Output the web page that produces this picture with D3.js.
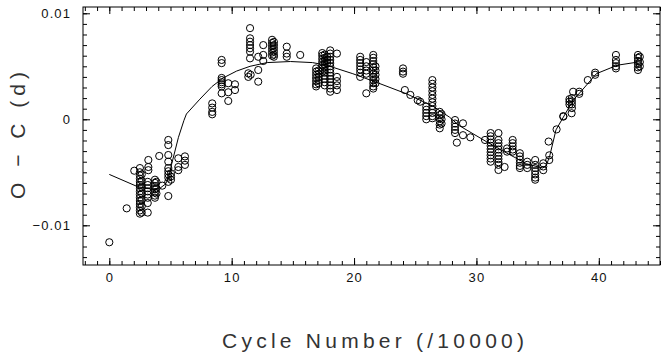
<!DOCTYPE html>
<html>
<head>
<meta charset="utf-8">
<script src="https://cdn.jsdelivr.net/npm/d3@7"></script>
<style>
  body { margin: 0; background: #fff; }
  .axis path, .axis line { stroke: #000; stroke-width: 1; }
  .axis text { font-family: "Liberation Sans", Arial, sans-serif; font-size: 13px; letter-spacing: 1.1px; fill: #111; }
  .title { font-family: "Liberation Sans", Arial, sans-serif; font-size: 21px; fill: #333; }
</style>
</head>
<body>
<div id="chart"></div>
<script>
// observed O-C, grouped by cycle column: [cycle (/10000), [O-C values (d)]]
const obsColumns = [
  [0.0, [-0.0116]],
  [1.42, [-0.0084]],
  [2.04, [-0.00485]],
  [2.5, [-0.0046, -0.0050, -0.0053, -0.0056, -0.0059, -0.0062, -0.0065, -0.0068, -0.0071, -0.0074, -0.0077, -0.0080, -0.0083, -0.0086, -0.0089]],
  [2.65, [-0.0052, -0.0058, -0.0064, -0.0070, -0.0076, -0.0082, -0.0088]],
  [3.19, [-0.00384, -0.0045, -0.0048]],
  [3.14, [-0.0059, -0.0062, -0.0065, -0.0068, -0.0071, -0.0074, -0.0079, -0.0088]],
  [3.73, [-0.0057, -0.0060, -0.0063, -0.0066, -0.0069, -0.0072, -0.0074]],
  [3.85, [-0.0059, -0.0065, -0.0070]],
  [4.08, [-0.00346]],
  [4.33, [-0.00626]],
  [4.82, [-0.00195, -0.00243, -0.00337, -0.0040, -0.0046, -0.0049, -0.0052, -0.0055, -0.0059, -0.00724]],
  [5.04, [-0.0051, -0.0054, -0.0057]],
  [5.64, [-0.00368, -0.0045, -0.0048]],
  [6.18, [-0.0035, -0.0039, -0.0043]],
  [8.41, [0.0015, 0.0011, 0.0007, 0.00047]],
  [9.18, [0.0056, 0.0053, 0.0039, 0.0037, 0.0035, 0.0033, 0.0031, 0.00245]],
  [9.72, [0.0034, 0.00255, 0.00173]],
  [10.27, [0.0033, 0.00276]],
  [11.5, [0.0086, 0.00764, 0.00732, 0.0070, 0.0067, 0.00638, 0.00575]],
  [11.36, [0.00434, 0.0040]],
  [11.55, [0.0042]],
  [12.17, [0.0059, 0.00465, 0.00355]],
  [12.58, [0.0070, 0.00607, 0.0055]],
  [13.3, [0.0075, 0.0072, 0.0069, 0.0066, 0.0063, 0.0060]],
  [13.45, [0.0073, 0.0070, 0.0067, 0.0064, 0.0061, 0.0059]],
  [14.5, [0.00685, 0.0062, 0.0059]],
  [15.6, [0.00607]],
  [16.9, [0.0048, 0.0045, 0.0042, 0.0039, 0.0036, 0.0033, 0.0031]],
  [17.1, [0.0046, 0.0043, 0.0040, 0.0037, 0.0034]],
  [17.4, [0.00625, 0.0060, 0.0057, 0.0054, 0.0051, 0.0048, 0.0045]],
  [17.6, [0.0061, 0.0058, 0.0055, 0.0052, 0.0049, 0.0046, 0.0044, 0.0041, 0.0038, 0.0035, 0.0032]],
  [17.8, [0.0059, 0.0056, 0.0053]],
  [18.05, [0.0065, 0.0062, 0.0059, 0.0056, 0.0053, 0.0050, 0.0047, 0.0044, 0.0041, 0.0038, 0.0035, 0.0032, 0.0029, 0.0026]],
  [18.6, [0.0062, 0.0040, 0.0036, 0.0032, 0.00276]],
  [20.5, [0.0059, 0.0056, 0.0053, 0.0050, 0.0047, 0.0044, 0.0040]],
  [21.0, [0.0054, 0.0050, 0.0046, 0.0043, 0.00245]],
  [21.57, [0.00607, 0.0058, 0.0055, 0.0052, 0.0049, 0.0046, 0.0043, 0.0040, 0.0037, 0.0034, 0.0031, 0.0029]],
  [21.75, [0.0050, 0.0046, 0.0042, 0.0038, 0.0034]],
  [24.0, [0.0048, 0.0045, 0.0043]],
  [24.15, [0.00276]],
  [24.6, [0.0023]],
  [25.2, [0.0018]],
  [25.4, [0.00166]],
  [25.9, [0.0012, 0.0009, 0.0006, 0.0003, 0.0000]],
  [26.4, [0.0037, 0.00335, 0.0030, 0.00265, 0.0023, 0.00195, 0.0016, 0.00125, 0.0009, 0.0006, 0.0003, 0.0001]],
  [27.0, [0.0007, 0.0004, 0.0001, -0.0002, -0.0005, -0.00085]],
  [27.15, [0.0005, 0.0000, -0.0004]],
  [28.25, [-0.00007, -0.0004, -0.0007, -0.0010, -0.0013]],
  [28.4, [-0.0022]],
  [28.9, [-0.00038, -0.0015]],
  [29.5, [-0.0017]],
  [30.7, [-0.00195]],
  [31.16, [-0.0013, -0.0016, -0.0019, -0.0022, -0.0025, -0.0028, -0.0031, -0.0034, -0.0037, -0.0040]],
  [31.8, [-0.0013, -0.00195, -0.00225, -0.00255, -0.00285, -0.00315, -0.00345, -0.00375, -0.00405, -0.0043, -0.00478]],
  [32.3, [-0.0045]],
  [32.5, [-0.00275, -0.00305]],
  [32.96, [-0.00195, -0.00225, -0.00255, -0.00285, -0.00305]],
  [33.55, [-0.0032, -0.0035, -0.0038, -0.0041, -0.0044, -0.0046]],
  [34.15, [-0.0040, -0.0043, -0.0046]],
  [34.8, [-0.00384, -0.0043, -0.0046, -0.0049, -0.0052, -0.0055, -0.0057]],
  [35.46, [-0.00415, -0.00445, -0.0048]],
  [35.9, [-0.0021]],
  [35.95, [-0.0034, -0.00384]],
  [36.55, [-0.00095]],
  [37.1, [0.00025, 0.0003]],
  [37.6, [0.0014, 0.00166, 0.0019]],
  [37.78, [0.00057]],
  [37.8, [0.0020, 0.0017, 0.0014, 0.00106]],
  [37.9, [0.0026]],
  [38.4, [0.0026, 0.0024]],
  [39.1, [0.0037]],
  [39.7, [0.0044, 0.0042]],
  [41.4, [0.00607, 0.0056, 0.0053, 0.0050, 0.0048]],
  [43.2, [0.00607, 0.0058, 0.0055, 0.0052, 0.0049, 0.00465]],
  [43.35, [0.0059, 0.0054, 0.0050]]
];

// fitted curve
const fitCycle = [0, 2.3, 3.5, 4.2, 4.6, 4.85, 5.1, 5.65, 6.1, 6.3, 7.4, 8.4, 9.3, 10.4, 11.5, 12.9, 14.8, 16.6, 17.75,
  19.9, 21.8, 24.3, 26.5, 27.8, 28.6, 30.8, 32.5, 34.1, 35.4, 35.7, 36.0, 36.5, 37.2, 37.9, 38.6, 39.8, 41.5, 43.2];
const fitOC = [-0.0052, -0.00635, -0.0066, -0.00645, -0.0061, -0.0055, -0.0042, -0.0017, -0.0001, 0.0005, 0.0019, 0.0031, 0.0039, 0.00455, 0.0050, 0.00535, 0.00545, 0.00535, 0.0051,
  0.0043, 0.0035, 0.0024, 0.0012, 0.0002, -0.0006, -0.0021, -0.0032, -0.0042, -0.0046, -0.0044, -0.0034, -0.0010, 0.0004, 0.0018, 0.0027, 0.0043, 0.0051, 0.0054];

const xTicks = [0, 10, 20, 30, 40];
const yTicks = [-0.01, 0, 0.01];

const W = 665, H = 358;
const margin = { top: 7, right: 5, bottom: 93, left: 83 };
const w = W - margin.left - margin.right;
const h = H - margin.top - margin.bottom;

const svg = d3.select("#chart").append("svg")
  .attr("width", W)
  .attr("height", H);

const g = svg.append("g")
  .attr("transform", `translate(${margin.left},${margin.top})`);

const x = d3.scaleLinear().domain([-2.15, 45]).range([0, w]);
const y = d3.scaleLinear().domain([-0.013745, 0.010594]).range([h, 0]);

const xMinor = d3.range(-2, 46, 1);
const yMinor = d3.range(-13, 11, 1).map(d => d / 1000);

// --- minor ticks (all four sides, pointing inwards) ---
g.append("g").attr("class", "axis").attr("transform", `translate(0,${h})`)
  .call(d3.axisBottom(x).tickValues(xMinor).tickSize(-4).tickFormat(""));
g.append("g").attr("class", "axis")
  .call(d3.axisTop(x).tickValues(xMinor).tickSize(-4).tickFormat(""));
g.append("g").attr("class", "axis")
  .call(d3.axisLeft(y).tickValues(yMinor).tickSize(-4).tickFormat(""));
g.append("g").attr("class", "axis").attr("transform", `translate(${w},0)`)
  .call(d3.axisRight(y).tickValues(yMinor).tickSize(-4).tickFormat(""));

// --- major ticks ---
g.append("g").attr("class", "axis").attr("transform", `translate(0,${h})`)
  .call(d3.axisBottom(x).tickValues(xTicks).tickSize(-7).tickPadding(8).tickFormat(d3.format("d")));
g.append("g").attr("class", "axis")
  .call(d3.axisTop(x).tickValues(xTicks).tickSize(-7).tickFormat(""));
g.append("g").attr("class", "axis")
  .call(d3.axisLeft(y).tickValues(yTicks).tickSize(-7).tickPadding(12).tickFormat(d3.format(".2~f")));
g.append("g").attr("class", "axis").attr("transform", `translate(${w},0)`)
  .call(d3.axisRight(y).tickValues(yTicks).tickSize(-7).tickFormat(""));

g.selectAll(".axis .domain").remove();

// frame
g.append("rect")
  .attr("width", w).attr("height", h)
  .attr("fill", "none").attr("stroke", "#000").attr("stroke-width", 1);

// --- fitted line ---
const line = d3.line()
  .x((d, i) => x(fitCycle[i]))
  .y(d => y(d));

g.append("path")
  .datum(fitOC)
  .attr("fill", "none")
  .attr("stroke", "#000")
  .attr("stroke-width", 1)
  .attr("d", line);

// --- observations ---
const obs = obsColumns.flatMap(([c, vals]) => vals.map(v => ({ cycle: c, oc: v })));

g.append("g").selectAll("circle")
  .data(obs)
  .enter().append("circle")
  .attr("cx", d => x(d.cycle))
  .attr("cy", d => y(d.oc))
  .attr("r", 3.6)
  .attr("fill", "none")
  .attr("stroke", "#000")
  .attr("stroke-width", 1);

// --- axis titles ---
svg.append("text")
  .attr("class", "title")
  .attr("x", 222).attr("y", 348)
  .attr("textLength", 302).attr("lengthAdjust", "spacing")
  .text("Cycle Number (/10000)");

svg.append("text")
  .attr("class", "title")
  .attr("transform", "translate(25,199) rotate(-90)")
  .attr("x", 0).attr("y", 0)
  .attr("textLength", 127).attr("lengthAdjust", "spacing")
  .text("O − C (d)");
</script>
</body>
</html>
